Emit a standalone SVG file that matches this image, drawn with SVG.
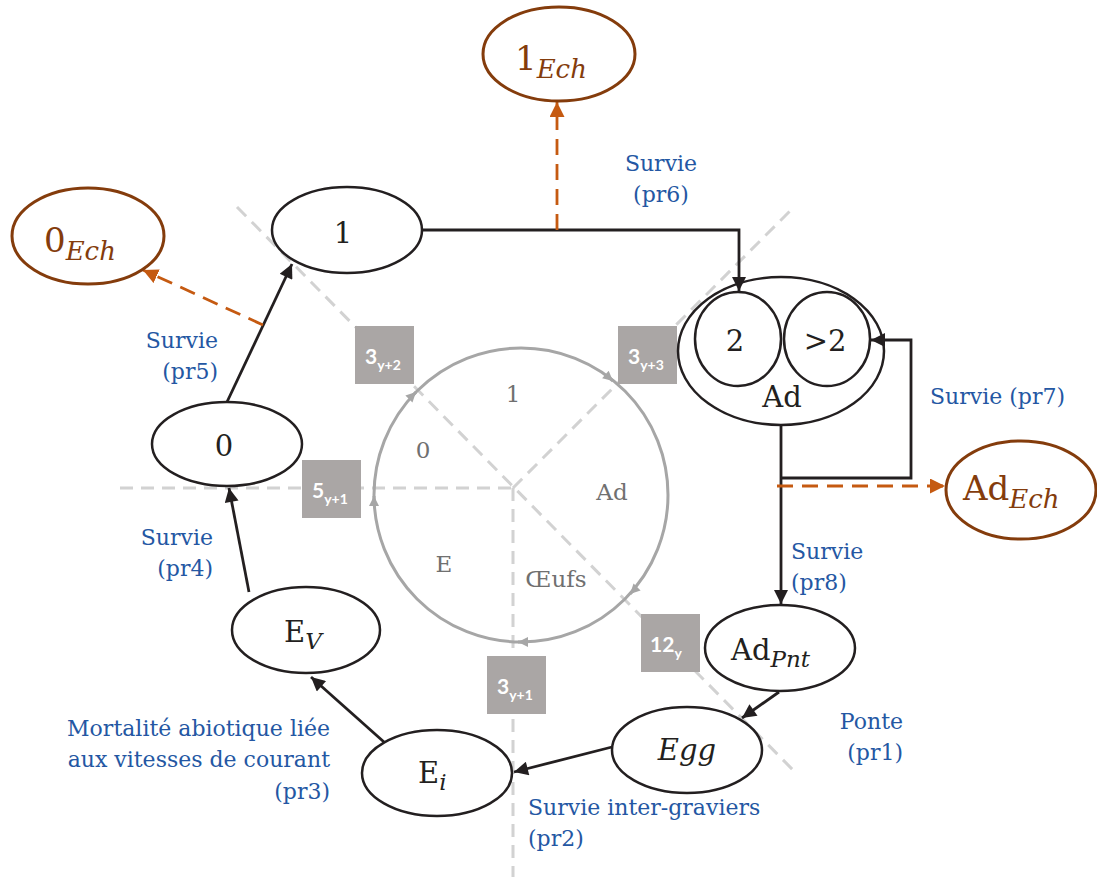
<svg xmlns="http://www.w3.org/2000/svg" width="1097" height="877" viewBox="0 0 1097 877">
<style>
.bg{fill:#fff}
.guide{fill:none;stroke:#d2d2d2;stroke-width:3;stroke-dasharray:13 8}
.node{fill:none;stroke:#231f20;stroke-width:2.5}
.ech{fill:none;stroke:#843c0c;stroke-width:3}
.edge{fill:none;stroke:#231f20;stroke-width:2.8}
.oedge{fill:none;stroke:#c55a11;stroke-width:2.8;stroke-dasharray:16 9}
.lbl{font-family:"DejaVu Serif","Liberation Serif",serif;font-size:29px;fill:#231f20}
.it{font-style:italic}
.echt{font-family:"DejaVu Serif","Liberation Serif",serif;fill:#843c0c}
.blue{font-family:"DejaVu Serif","Liberation Serif",serif;font-size:22px;fill:#2457a3}
.gtxt{font-family:"DejaVu Serif","Liberation Serif",serif;font-size:23px;fill:#707070}
.box{fill:#aaa6a5}
.btxt{font-family:Lato,"Open Sans",sans-serif;font-weight:bold;fill:#fff;font-size:21px}
.bsub{font-size:14px}
</style>
<defs>
<marker id="ab" viewBox="0 0 10 10" refX="10" refY="5" markerWidth="16" markerHeight="14" markerUnits="userSpaceOnUse" orient="auto"><path d="M0,0 L10,5 L0,10 z" fill="#231f20"/></marker>
<marker id="ao" viewBox="0 0 10 10" refX="10" refY="5" markerWidth="15" markerHeight="15" markerUnits="userSpaceOnUse" orient="auto"><path d="M0,0 L10,5 L0,10 z" fill="#c55a11"/></marker>
<marker id="ag" viewBox="0 0 10 10" refX="10" refY="5" markerWidth="12" markerHeight="10" markerUnits="userSpaceOnUse" orient="auto"><path d="M0,0 L10,5 L0,10 z" fill="#a6a6a6"/></marker>
</defs>
<rect class="bg" x="0" y="0" width="1097" height="877"/>

<g id="guides">
<path class="guide" d="M120,488 L513,488"/>
<path class="guide" d="M513,488 L513,877"/>
<path class="guide" d="M237,207 L793,770"/>
<path class="guide" d="M513,488 L794,207"/>
</g>

<g id="cycle">
<circle cx="521" cy="495" r="147" fill="none" stroke="#a6a6a6" stroke-width="3"/>
<path d="M410,398 L416,392" fill="none" stroke="#a6a6a6" stroke-width="3" marker-end="url(#ag)"/>
<path d="M606,375 L613,381" fill="none" stroke="#a6a6a6" stroke-width="3" marker-end="url(#ag)"/>
<path d="M636,588 L630,594" fill="none" stroke="#a6a6a6" stroke-width="3" marker-end="url(#ag)"/>
<path d="M526,642 L518,642" fill="none" stroke="#a6a6a6" stroke-width="3" marker-end="url(#ag)"/>
<path d="M374,504 L374,496" fill="none" stroke="#a6a6a6" stroke-width="3" marker-end="url(#ag)"/>
<text class="gtxt" x="513" y="402" text-anchor="middle">1</text>
<text class="gtxt" x="423" y="458" text-anchor="middle">0</text>
<text class="gtxt" x="612" y="500" text-anchor="middle">Ad</text>
<text class="gtxt" x="444" y="572" text-anchor="middle">E</text>
<text class="gtxt" x="556" y="587" text-anchor="middle">Œufs</text>
</g>

<g id="boxes">
<rect class="box" x="355" y="326" width="59" height="58"/>
<text class="btxt" x="365" y="364">3<tspan class="bsub" dy="6">y+2</tspan></text>
<rect class="box" x="618" y="326" width="59" height="58"/>
<text class="btxt" x="628" y="364">3<tspan class="bsub" dy="6">y+3</tspan></text>
<rect class="box" x="302" y="460" width="59" height="58"/>
<text class="btxt" x="312" y="498">5<tspan class="bsub" dy="6">y+1</tspan></text>
<rect class="box" x="641" y="614" width="59" height="58"/>
<text class="btxt" x="650" y="652">12<tspan class="bsub" dy="6">y</tspan></text>
<rect class="box" x="487" y="656" width="59" height="58"/>
<text class="btxt" x="497" y="694">3<tspan class="bsub" dy="6">y+1</tspan></text>
</g>

<g id="connectors">
<path class="edge" d="M422,230 L739,230 L739,291" marker-end="url(#ab)"/>
<path class="edge" d="M227,402 L292,264" marker-end="url(#ab)"/>
<path class="edge" d="M249,592 L229,488" marker-end="url(#ab)"/>
<path class="edge" d="M384,742 L311,677" marker-end="url(#ab)"/>
<path class="edge" d="M612,747 L514,772" marker-end="url(#ab)"/>
<path class="edge" d="M779,692 L742,718" marker-end="url(#ab)"/>
<path class="edge" d="M781,425 L781,604" marker-end="url(#ab)"/>
<path class="edge" d="M781,478 L911,478 L911,340 L871,340" marker-end="url(#ab)"/>
<path class="oedge" d="M557,230 L557,102" marker-end="url(#ao)"/>
<path class="oedge" d="M263,325 L143,270" marker-end="url(#ao)"/>
<path class="oedge" d="M777,486 L945,486" marker-end="url(#ao)"/>
</g>

<g id="labels">
<text class="blue" x="661" y="171" text-anchor="middle">Survie</text>
<text class="blue" x="661" y="202" text-anchor="middle">(pr6)</text>
<text class="blue" x="218" y="348" text-anchor="end">Survie</text>
<text class="blue" x="218" y="379" text-anchor="end">(pr5)</text>
<text class="blue" x="1065" y="404" text-anchor="end">Survie (pr7)</text>
<text class="blue" x="791" y="559">Survie</text>
<text class="blue" x="791" y="590">(pr8)</text>
<text class="blue" x="213" y="545" text-anchor="end">Survie</text>
<text class="blue" x="213" y="576" text-anchor="end">(pr4)</text>
<text class="blue" x="903" y="729" text-anchor="end">Ponte</text>
<text class="blue" x="903" y="760" text-anchor="end">(pr1)</text>
<text class="blue" x="330" y="736" text-anchor="end">Mortalité abiotique liée</text>
<text class="blue" x="330" y="767" text-anchor="end">aux vitesses de courant</text>
<text class="blue" x="330" y="799" text-anchor="end">(pr3)</text>
<text class="blue" x="528" y="815">Survie inter-graviers</text>
<text class="blue" x="528" y="846">(pr2)</text>
</g>

<g id="node-1">
<ellipse class="node" cx="347" cy="230" rx="75" ry="43"/>
<text class="lbl" x="343" y="243" text-anchor="middle">1</text>
</g>
<g id="node-0">
<ellipse class="node" cx="227" cy="444" rx="75" ry="42"/>
<text class="lbl" x="224" y="456" text-anchor="middle">0</text>
</g>
<g id="node-Ev">
<ellipse class="node" cx="306" cy="630" rx="74" ry="43"/>
<text class="lbl" x="284" y="642">E<tspan class="it" font-size="23" dy="7">V</tspan></text>
</g>
<g id="node-Ei">
<ellipse class="node" cx="437" cy="773" rx="75" ry="43"/>
<text class="lbl" x="418" y="783">E<tspan class="it" font-size="23" dy="7">i</tspan></text>
</g>
<g id="node-Egg">
<ellipse class="node" cx="687" cy="750" rx="75" ry="43"/>
<text class="lbl it" x="687" y="760" text-anchor="middle">Egg</text>
</g>
<g id="node-AdPnt">
<ellipse class="node" cx="780" cy="648" rx="75" ry="43"/>
<text class="lbl" x="731" y="660">Ad<tspan class="it" font-size="23" dy="7">Pnt</tspan></text>
</g>
<g id="node-Ad">
<ellipse class="node" cx="781" cy="351" rx="103" ry="74"/>
<ellipse class="node" cx="738" cy="339" rx="43" ry="47"/>
<ellipse class="node" cx="827" cy="339" rx="43" ry="47"/>
<text class="lbl" x="735" y="351" text-anchor="middle">2</text>
<text class="lbl" x="825" y="351" text-anchor="middle">&gt;2</text>
<text class="lbl" x="782" y="407" text-anchor="middle">Ad</text>
</g>
<g id="node-0Ech">
<ellipse class="ech" cx="88" cy="236" rx="76" ry="48"/>
<text class="echt" x="44" y="252" font-size="34">0<tspan class="it" font-size="26" dy="8">Ech</tspan></text>
</g>
<g id="node-1Ech">
<ellipse class="ech" cx="559" cy="54" rx="76" ry="47"/>
<text class="echt" x="515" y="70" font-size="34">1<tspan class="it" font-size="26" dy="8">Ech</tspan></text>
</g>
<g id="node-AdEch">
<ellipse class="ech" cx="1021" cy="490" rx="75" ry="49"/>
<text class="echt" x="963" y="500" font-size="34">Ad<tspan class="it" font-size="26" dy="8">Ech</tspan></text>
</g>
</svg>
